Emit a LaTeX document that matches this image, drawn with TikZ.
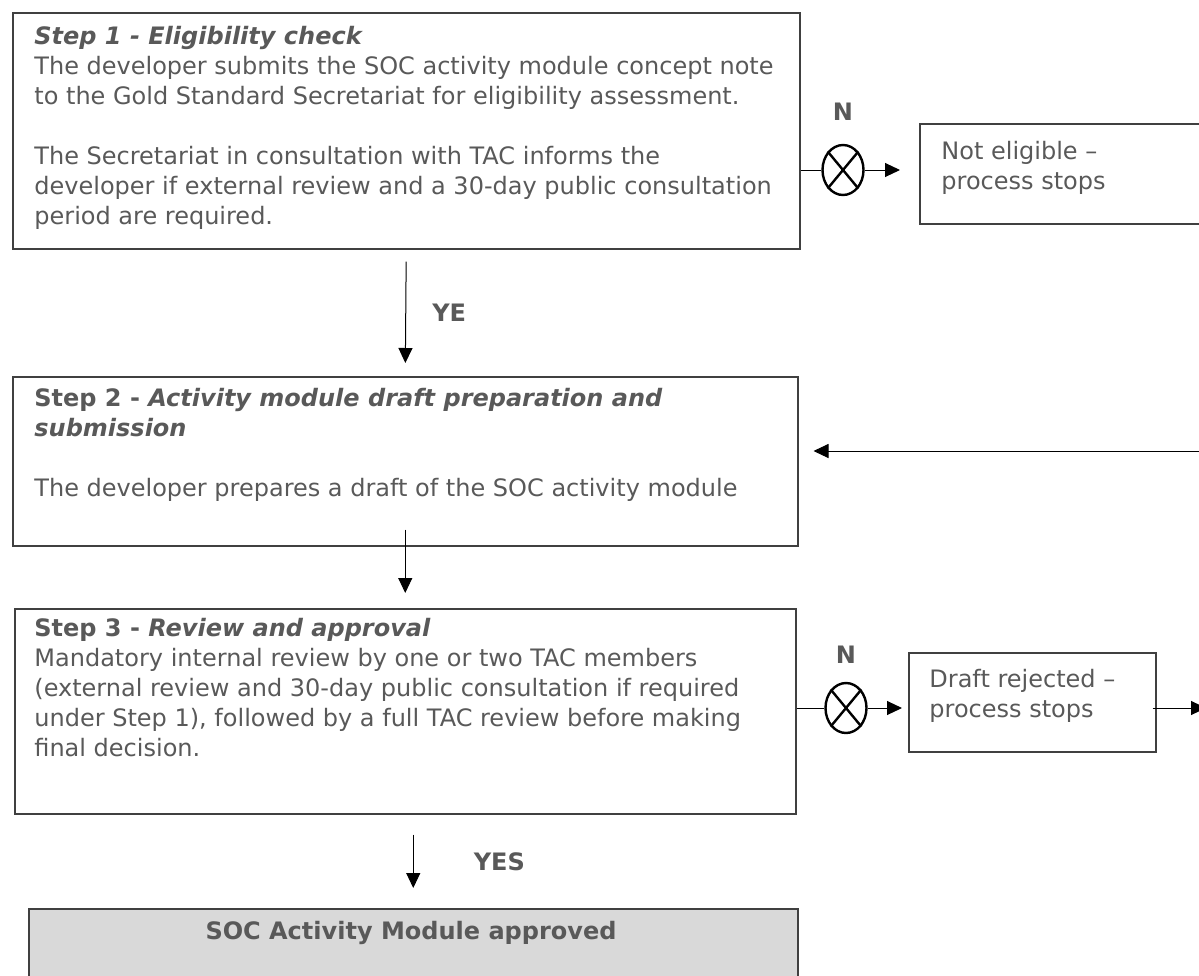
\documentclass[tikz,border=0pt]{standalone}
\usepackage{fontspec}
\setmainfont{DejaVu Sans}[BoldFont={DejaVu Sans Bold},ItalicFont={DejaVu Sans Oblique},BoldItalicFont={DejaVu Sans Bold Oblique}]
\usetikzlibrary{shapes.geometric,arrows.meta,positioning}
\definecolor{textgray}{HTML}{595959}
\definecolor{framegray}{HTML}{404040}
\definecolor{approvedgray}{HTML}{D9D9D9}
\tikzset{
	stepbox/.style={draw=framegray, line width=.75pt, inner sep=0pt, anchor=north west},
	txt/.style={anchor=north west, align=left, inner sep=0pt, text=textgray, font=\fontsize{12}{15}\selectfont},
	lbl/.style={text=textgray, inner sep=0pt, font=\fontsize{12}{15}\selectfont\bfseries},
	flow/.style={line width=.5pt, -{Triangle[length=7.5pt,width=7pt]}},
	xor/.style={ellipse, draw, line width=1.2pt, minimum width=20.5pt, minimum height=25pt, inner sep=0pt}
}
\begin{document}
\begin{tikzpicture}[x=.5pt, y=-.5pt]
	\useasboundingbox (0,0) rectangle (1199,975);
	\clip (0,0) rectangle (1199,975);
	\node [stepbox, minimum width=393.5pt, minimum height=118pt] (check) at (12,12) {};
	\node [stepbox, minimum width=155.5pt, minimum height=50pt] (noteligible) at (919,123) {};
	\node [stepbox, minimum width=392.5pt, minimum height=84.5pt] (draft) at (12,376) {};
	\node [stepbox, minimum width=390.5pt, minimum height=102.5pt] (review) at (14,608) {};
	\node [stepbox, minimum width=123.5pt, minimum height=49.5pt] (rejected) at (908,652) {};
	\node [stepbox, fill=approvedgray, minimum width=384.5pt, minimum height=46pt] (approved) at (28,908) {};
	\node [txt] (checktxt) at (34,26) {\textbf{\textit{Step 1 - Eligibility check}}\\
		The developer submits the SOC activity module concept note\\
		to the Gold Standard Secretariat for eligibility assessment.\\[15pt]
		The Secretariat in consultation with TAC informs the\\
		developer if external review and a 30-day public consultation\\
		period are required.};
	\node [txt] (noteligibletxt) at (941,141) {Not eligible --\\process stops};
	\node [txt] (drafttxt) at (34,388) {\textbf{Step 2 - \textit{Activity module draft preparation and}}\\
		\textbf{\textit{submission}}\\[15pt]
		The developer prepares a draft of the SOC activity module};
	\node [txt] (reviewtxt) at (34,618) {\textbf{Step 3 - \textit{Review and approval}}\\
		Mandatory internal review by one or two TAC members\\
		(external review and 30-day public consultation if required\\
		under Step 1), followed by a full TAC review before making\\
		final decision.};
	\node [txt] (rejectedtxt) at (929,669) {Draft rejected --\\process stops};
	\node [lbl] (approvedtxt) at (411,933) {SOC Activity Module approved};
	\node [xor] (gate1) at (843,170) {};
	\draw [line width=1.2pt] (gate1.north east) -- (gate1.south west) (gate1.north west) -- (gate1.south east);
	\node [lbl] (no1) at (843,112) {N};
	\node [xor] (gate2) at (846,708) {};
	\draw [line width=1.2pt] (gate2.north east) -- (gate2.south west) (gate2.north west) -- (gate2.south east);
	\node [lbl] (no2) at (846,655) {N};
	\draw [line width=.5pt] (check.east |- gate1) -- (gate1);
	\draw [flow, shorten >=9.5pt] (gate1) -- (noteligible.west |- gate1);
	\draw [flow, shorten <=6pt, shorten >=6.5pt] (check.south) -- node [lbl, right=13pt] (ye) {YE} (draft.north);
	\coordinate (loopin) at (1199,451);
	\draw [flow, shorten >=7.5pt] (loopin) -- (draft.east |- loopin);
	\draw [flow, shorten <=-8.5pt, shorten >=7.5pt] (draft.south) -- (review.north);
	\draw [line width=.5pt] (review.east |- gate2) -- (gate2);
	\draw [flow, shorten >=3pt] (gate2) -- (rejected.west |- gate2);
	\coordinate (stopout) at (1206,708);
	\draw [flow, shorten <=-2pt] (rejected.east |- stopout) -- (stopout);
	\draw [flow, shorten <=10pt, shorten >=10pt] (approved.north |- review.south) -- node [lbl, right=30pt] (yes) {YES} (approved.north);
\end{tikzpicture}
\end{document}
